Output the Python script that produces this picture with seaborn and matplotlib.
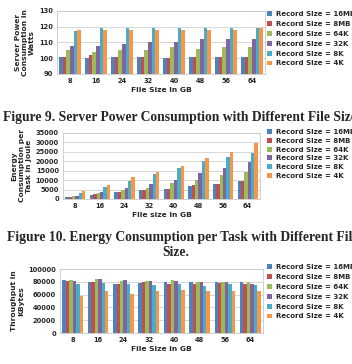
import numpy as np
import pandas as pd
import matplotlib
matplotlib.use("Agg")
import matplotlib.pyplot as plt
import seaborn as sns

file_sizes = ["8", "16", "24", "32", "40", "48", "56", "64"]
records = ["Record Size = 16MB", "Record Size = 8MB", "Record Size = 64K",
           "Record Size = 32K", "Record Size = 8K", "Record Size = 4K"]
colors = ["#4F81BD", "#C0504D", "#9BBB59", "#8064A2", "#4BACC6", "#F79646"]

# Figure 9: server power (W)
power = [
    [101, 100, 101, 101, 100, 101, 101, 101],
    [101, 102, 101, 101, 100, 101, 101, 101],
    [105, 104, 105, 105, 107, 106, 107, 107],
    [108, 108, 109, 110, 110, 112, 112, 112],
    [117, 119, 119, 119, 119, 119, 119, 119],
    [118, 118, 118, 118, 118, 118, 118, 119],
]

# Figure 10: energy per task (J)
energy = [
    [1000, 2200, 3500, 4700, 5200, 7000, 8200, 9300],
    [1100, 2500, 3500, 4700, 5300, 7200, 8000, 9600],
    [1500, 3000, 4600, 6000, 8500, 10200, 12600, 14300],
    [1800, 3800, 6000, 8200, 10200, 14000, 16600, 19500],
    [3000, 6300, 9700, 13200, 16500, 20000, 22500, 24300],
    [4000, 7200, 11700, 14500, 17600, 21500, 25000, 29500],
]

# Figure 11: throughput (KBytes)
throughput = [
    [83000, 80000, 77000, 78000, 80000, 79000, 79000, 79000],
    [82000, 80000, 77000, 79000, 77000, 77000, 78000, 77000],
    [83000, 84000, 82000, 82000, 83000, 80000, 79000, 80000],
    [82000, 84000, 83000, 82000, 82000, 80000, 79000, 77000],
    [76000, 78000, 76000, 75000, 76000, 74000, 76000, 75000],
    [58000, 65000, 61000, 66000, 67000, 66000, 66000, 66000],
]


def to_long(values):
    rows = []
    for rec, vals in zip(records, values):
        for f, v in zip(file_sizes, vals):
            rows.append({"file": f, "record": rec, "value": v})
    return pd.DataFrame(rows)


sns.set_style("white")
plt.rcParams["font.family"] = ["DejaVu Sans"]

W, H = 352, 364
fig = plt.figure(figsize=(W / 100, H / 100), dpi=100)


def px_axes(left, top, right, bottom):
    return fig.add_axes([left / W, 1 - bottom / H, (right - left) / W, (bottom - top) / H])


def draw(ax, values, ylim, yticks, ylabel, xlabel, leg_top, spacing):
    sns.barplot(data=to_long(values), x="file", y="value", hue="record",
                palette=colors, saturation=1, width=0.82, linewidth=0, ax=ax)
    ax.set_ylim(*ylim)
    ax.set_yticks(yticks)
    ax.yaxis.grid(True, color="#d0d0d0", linewidth=0.6)
    ax.set_axisbelow(True)
    for s in ax.spines.values():
        s.set_color("#c8c8c8")
        s.set_linewidth(0.6)
    ax.tick_params(axis="both", labelsize=4.8, length=0, pad=3)
    for t in ax.get_xticklabels() + ax.get_yticklabels():
        t.set_fontweight("bold")
    ax.set_ylabel(ylabel, fontsize=5.4, fontweight="bold", labelpad=3)
    ax.set_xlabel(xlabel, fontsize=5.4, fontweight="bold", labelpad=2)
    handles, labels = ax.get_legend_handles_labels()
    ax.legend(handles, labels, loc="upper left",
              bbox_to_anchor=(267 / W, 1 - leg_top / H),
              bbox_transform=fig.transFigure, frameon=False,
              prop={"size": 5.0, "weight": "bold"},
              handlelength=0.7, handleheight=0.7, handletextpad=0.6,
              labelspacing=spacing, borderaxespad=0, borderpad=0)


ax1 = px_axes(57, 11, 265, 74)
draw(ax1, power, (90, 130), [90, 100, 110, 120, 130],
     "Server Power\nConsumption In\nWatts", "File Size in GB", 11, 0.56)

ax2 = px_axes(63, 133, 260, 199)
draw(ax2, energy, (0, 35000), list(range(0, 35001, 5000)),
     "Energy\nConsumption per\nTask in Joule", "File size in GB", 129, 0.4)

ax3 = px_axes(60, 269, 263, 333)
draw(ax3, throughput, (0, 100000), list(range(0, 100001, 20000)),
     "Throughput in\nKBytes", "File Size in GB", 264, 0.56)

cap = {"family": "Liberation Serif", "weight": "bold", "size": 9.8}
fig.text(3 / W, 1 - 118 / H, "Figure 9. Server Power Consumption with Different File Sizes",
         ha="left", va="center", fontdict=cap)
fig.text(7 / W, 1 - 238 / H, "Figure 10. Energy Consumption per Task with Different File",
         ha="left", va="center", fontdict=cap)
fig.text(176 / W, 1 - 253 / H, "Size.", ha="center", va="center", fontdict=cap)

fig.savefig("out.png", dpi=100)
